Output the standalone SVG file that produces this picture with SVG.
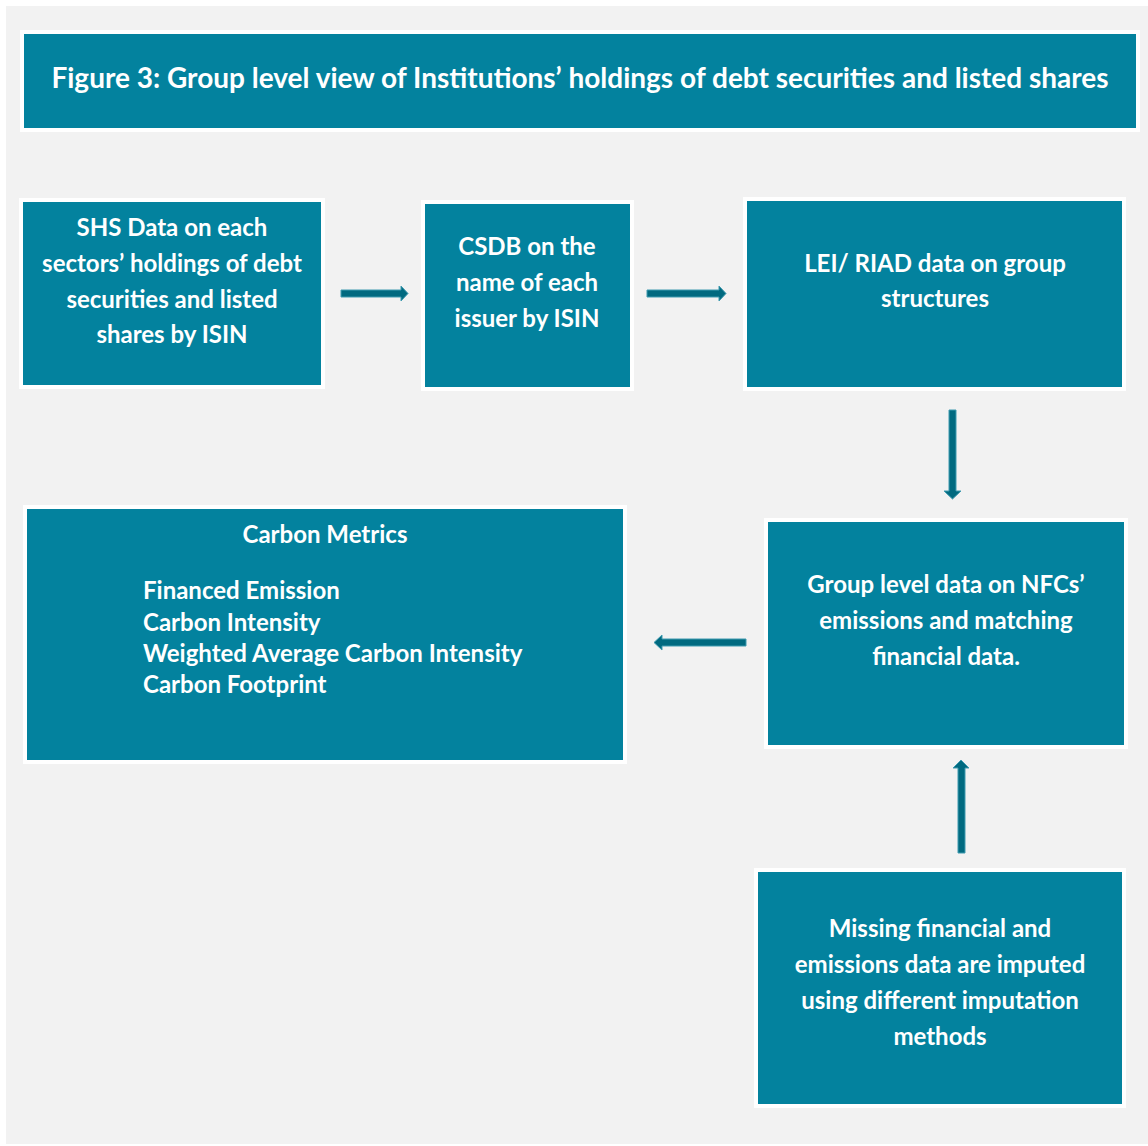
<svg xmlns="http://www.w3.org/2000/svg" width="1148" height="1146" viewBox="0 0 1148 1146">
<style>
.box{fill:#03829e;stroke:#ffffff;stroke-width:4}
.t{font-family:Lato,"Open Sans","Liberation Sans",sans-serif;font-weight:bold;fill:#ffffff;font-size:24px}
.c{text-anchor:middle}
.title{font-size:28px}
.arr{fill:#016a80;stroke:#3f9bb0;stroke-width:1}
</style>
<rect x="0" y="0" width="1148" height="1146" fill="#ffffff"/>
<rect x="6" y="6" width="1142" height="1138" fill="#f2f2f2"/>
<g id="title">
<rect class="box" x="22" y="32" width="1116" height="98"/>
<text class="t c title" x="580" y="88">Figure 3: Group level view of Institutions’ holdings of debt securities and listed shares</text>
</g>
<g id="shs">
<rect class="box" x="21" y="200" width="302" height="187"/>
<text class="t c" x="172" y="236">SHS Data on each</text>
<text class="t c" x="172" y="272">sectors’ holdings of debt</text>
<text class="t c" x="172" y="308">securities and listed</text>
<text class="t c" x="172" y="343">shares by ISIN</text>
</g>
<g id="csdb">
<rect class="box" x="423" y="202" width="209" height="187"/>
<text class="t c" x="527" y="255">CSDB on the</text>
<text class="t c" x="527" y="291">name of each</text>
<text class="t c" x="527" y="327">issuer by ISIN</text>
</g>
<g id="lei">
<rect class="box" x="745" y="199" width="379" height="190"/>
<text class="t c" x="935" y="272">LEI/ RIAD data on group</text>
<text class="t c" x="935" y="307">structures</text>
</g>
<g id="carbon">
<rect class="box" x="25" y="507" width="600" height="255"/>
<text class="t c" x="325" y="543">Carbon Metrics</text>
<text class="t" x="143" y="599">Financed Emission</text>
<text class="t" x="143" y="631">Carbon Intensity</text>
<text class="t" x="143" y="662">Weighted Average Carbon Intensity</text>
<text class="t" x="143" y="693">Carbon Footprint</text>
</g>
<g id="group">
<rect class="box" x="766" y="520" width="360" height="227"/>
<text class="t c" x="946" y="593">Group level data on NFCs’</text>
<text class="t c" x="946" y="629">emissions and matching</text>
<text class="t c" x="946" y="665">financial data.</text>
</g>
<g id="missing">
<rect class="box" x="756" y="870" width="368" height="236"/>
<text class="t c" x="940" y="937">Missing financial and</text>
<text class="t c" x="940" y="973">emissions data are imputed</text>
<text class="t c" x="940" y="1009">using different imputation</text>
<text class="t c" x="940" y="1045">methods</text>
</g>
<g id="connectors">
<path class="arr" d="M341,290 L401,290 L401,286 L408,293.5 L401,301 L401,297 L341,297 Z"/>
<path class="arr" d="M647,290 L719,290 L719,286 L726,293.5 L719,301 L719,297 L647,297 Z"/>
<path class="arr" d="M949,410 L956,410 L956,491 L961,491 L952.5,499 L944,491 L949,491 Z"/>
<path class="arr" d="M746,639 L662,639 L662,635 L654,642.5 L662,650 L662,646 L746,646 Z"/>
<path class="arr" d="M958,853 L965,853 L965,768 L969,768 L961,760 L953,768 L958,768 Z"/>
</g>
</svg>
